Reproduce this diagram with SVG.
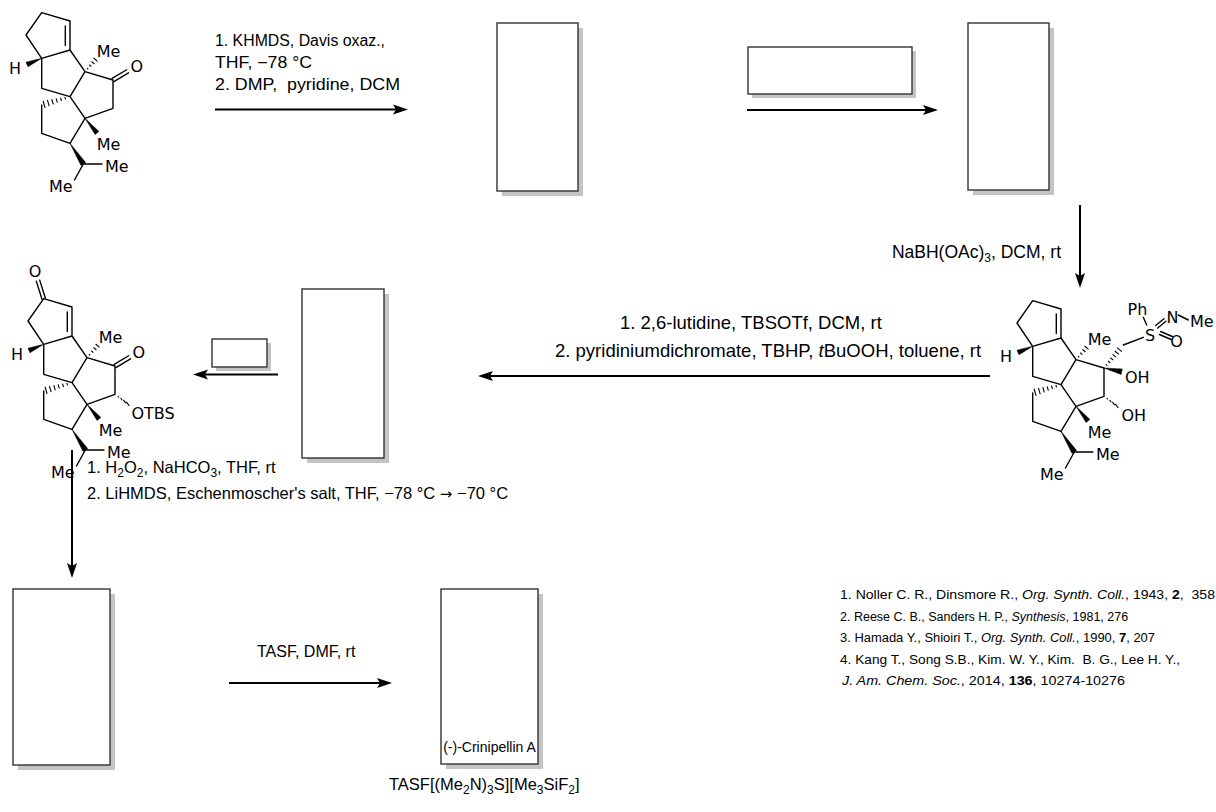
<svg xmlns="http://www.w3.org/2000/svg" xmlns:xlink="http://www.w3.org/1999/xlink" width="1216" height="812" viewBox="0 0 1216 812">
<style>
.bd{fill:none;stroke:#000;stroke-width:1.4;stroke-linecap:round;stroke-linejoin:round}
.hs{fill:none;stroke:#000;stroke-width:1.1}
.wg{fill:#000;stroke:#000;stroke-width:0.5;stroke-linejoin:round}
.lb{font-family:"DejaVu Sans","Liberation Sans",sans-serif;font-size:16px;fill:#000}
.lc{text-anchor:middle}
.rg{font-family:"Liberation Sans",Arial,sans-serif;font-size:16px;fill:#000;white-space:pre}
.r2{font-size:18.5px}
.r3{font-size:16.5px}
.rf{font-family:"Liberation Sans",Arial,sans-serif;font-size:13px;fill:#000;white-space:pre}
.box{fill:#fff;stroke:#333;stroke-width:1.4}
.sh{fill:#c4c4c4}
.ar{fill:none;stroke:#000;stroke-width:2}
</style>
<defs>
<marker id="ah" markerUnits="userSpaceOnUse" markerWidth="20" markerHeight="12" refX="4" refY="5" orient="auto" overflow="visible">
<path d="M0,0 L15,5 L0,10 L3,5 Z" fill="#000"/>
</marker>
<g id="skel">
<path class="bd" d="M41.7,12.7 L70,21 L70,50 L41.7,58.3 L26,35 Z M65.3,26 L65.3,45.5 M70,50 L85,71.7 L70,96.7 L41.7,88.3 L41.7,58.3 M85,71.7 L113,80 L113,108.3 L85,118.3 L70,96.7 M85,118.3 L70,143.3 L41.7,133.3 L41.7,105 M83.3,164 L102,164 M83.3,164 L74.5,180"/>
<path class="wg" d="M41.7,58.3 L26,62.2 L28,66.8 Z M85,118.3 L98.9,131.4 L95.1,134.6 Z M70,143.3 L85.6,162.5 L81,165.5 Z"/>
<path class="hs" d="M87.04,68.17 L88.24,69.23 M89.23,64.78 L91.33,66.62 M91.42,61.38 L94.42,64.02 M93.61,57.98 L97.51,61.42 M64.85,96.9 L65.55,99.3 M60.5,97.67 L61.46,100.99 M56.13,98.45 L57.37,102.67 M51.77,99.21 L53.29,104.39 M47.4,99.96 L49.2,106.1 M43.05,100.74 L45.11,107.78"/>
<text class="lb" x="9" y="74">H</text>
<text class="lb" x="96.7" y="56.7">Me</text>
<text class="lb" x="96.7" y="150">Me</text>
<text class="lb" x="105" y="172">Me</text>
<text class="lb" x="49" y="192">Me</text>
</g>
</defs>

<g id="node-start">
<use xlink:href="#skel"/>
<path class="bd" d="M113.9,81.55 L128.5,72.85 M112.1,78.45 L126.7,69.75"/>
<text class="lb lc" x="136.7" y="71.5">O</text>
</g>

<g id="node-enone" transform="translate(2,286)">
<use xlink:href="#skel"/>
<path class="bd" d="M113.9,81.55 L128.5,72.85 M112.1,78.45 L126.7,69.75 M43.4,12.2 L37.7,-5.9 M40,13.2 L34.3,-4.9"/>
<path class="hs" d="M115.72,110.06 L116.68,111.34 M118.56,111.98 L120.24,114.22 M121.4,113.9 L123.8,117.1 M124.24,115.82 L127.36,119.98"/>
<text class="lb lc" x="136.7" y="71.5">O</text>
<text class="lb lc" x="33" y="-9.3">O</text>
<text class="lb" x="129.5" y="132.5">OTBS</text>
</g>

<g id="node-diol" transform="translate(991,288)">
<use xlink:href="#skel"/>
<path class="wg" d="M113,80 L130.14,86.44 L131.26,80.96 Z"/>
<path class="hs" d="M114.8,76.3 L116.34,77.58 M117.07,72.97 L119.21,74.77 M119.34,69.65 L122.1,71.97 M121.6,66.33 L124.98,69.15 M123.87,63.01 L127.85,66.35 M126.13,59.69 L130.73,63.55 M115.72,110.06 L116.68,111.34 M118.56,111.98 L120.24,114.22 M121.4,113.9 L123.8,117.1 M124.24,115.82 L127.36,119.98"/>
<path class="bd" d="M132.3,57 L152.3,49.3 M155.7,37 L152.3,29.3 M166.7,39.95 L175,33.25 M164.7,37.45 L173,30.75 M168.4,46.5 L180.1,51.5 M169.6,43.5 L181.3,48.5 M187.3,27 L197.3,32"/>
<text class="lb" x="134" y="95.3">OH</text>
<text class="lb" x="130.5" y="132.5">OH</text>
<text class="lb lc" x="159" y="52.7">S</text>
<text class="lb lc" x="146.5" y="27">Ph</text>
<text class="lb lc" x="181.5" y="35.3">N</text>
<text class="lb" x="199" y="39">Me</text>
<text class="lb lc" x="185.5" y="58.7">O</text>
</g>

<g id="node-boxA"><rect class="sh" x="502" y="28" width="81" height="168"/><rect class="box" x="497" y="23" width="81" height="168"/></g>
<g id="node-reagent-box1"><rect class="sh" x="752" y="51" width="164" height="47"/><rect class="box" x="748" y="47" width="164" height="47"/></g>
<g id="node-boxB"><rect class="sh" x="973" y="28" width="81" height="167"/><rect class="box" x="968" y="23" width="81" height="167"/></g>
<g id="node-boxC"><rect class="sh" x="307" y="294" width="82" height="169"/><rect class="box" x="302" y="289" width="82" height="169"/></g>
<g id="node-reagent-box2"><rect class="sh" x="216" y="343" width="55" height="28"/><rect class="box" x="212" y="339" width="55" height="28"/></g>
<g id="node-boxD"><rect class="sh" x="18" y="594" width="97" height="176"/><rect class="box" x="13" y="589" width="97" height="176"/></g>
<g id="node-product"><rect class="sh" x="446" y="594" width="97" height="175"/><rect class="box" x="441" y="589" width="97" height="175"/>
<text class="rg" x="489.5" y="752" text-anchor="middle" style="font-size:14px">(-)-Crinipellin A</text></g>

<g id="connectors">
<line class="ar" x1="215" y1="109.5" x2="397" y2="109.5" marker-end="url(#ah)"/>
<line class="ar" x1="747" y1="110" x2="927" y2="110" marker-end="url(#ah)"/>
<line class="ar" x1="1080" y1="205" x2="1080" y2="277" marker-end="url(#ah)"/>
<line class="ar" x1="990" y1="376" x2="489" y2="376" marker-end="url(#ah)"/>
<line class="ar" x1="278" y1="374.5" x2="204" y2="374.5" marker-end="url(#ah)"/>
<line class="ar" x1="72" y1="450" x2="72" y2="567" marker-end="url(#ah)"/>
<line class="ar" x1="229" y1="683" x2="381" y2="683" marker-end="url(#ah)"/>
</g>

<g id="labels">
<text class="rg" x="215" y="46" textLength="170" lengthAdjust="spacingAndGlyphs">1. KHMDS, Davis oxaz.,</text>
<text class="rg" x="215" y="68" textLength="97" lengthAdjust="spacingAndGlyphs">THF, −78 °C</text>
<text class="rg" x="215" y="90" textLength="185" lengthAdjust="spacingAndGlyphs">2. DMP,  pyridine, DCM</text>
<text class="rg r3" x="1061" y="258" text-anchor="end" style="font-size:17.5px">NaBH(OAc)<tspan dy="4" font-size="12">3</tspan><tspan dy="-4">, DCM, rt</tspan></text>
<text class="rg r2" x="620" y="329">1. 2,6-lutidine, TBSOTf, DCM, rt</text>
<text class="rg r2" x="555" y="357">2. pyridiniumdichromate, TBHP, <tspan font-style="italic">t</tspan>BuOOH, toluene, rt</text>
<text class="rg r3" x="87" y="473">1. H<tspan dy="4" font-size="12">2</tspan><tspan dy="-4">O</tspan><tspan dy="4" font-size="12">2</tspan><tspan dy="-4">, NaHCO</tspan><tspan dy="4" font-size="12">3</tspan><tspan dy="-4">, THF, rt</tspan></text>
<text class="rg r3" x="87" y="499">2. LiHMDS, Eschenmoscher's salt, THF, −78 °C <tspan font-family="DejaVu Sans" font-size="15">→</tspan> −70 °C</text>
<text class="rg" x="257" y="657">TASF, DMF, rt</text>
<text class="rg" x="389" y="790" style="font-size:16.5px">TASF[(Me<tspan dy="4" font-size="12">2</tspan><tspan dy="-4">N)</tspan><tspan dy="4" font-size="12">3</tspan><tspan dy="-4">S][Me</tspan><tspan dy="4" font-size="12">3</tspan><tspan dy="-4">SiF</tspan><tspan dy="4" font-size="12">2</tspan><tspan dy="-4">]</tspan></text>
<text class="rf" x="840" y="599" textLength="375" lengthAdjust="spacingAndGlyphs">1. Noller C. R., Dinsmore R., <tspan font-style="italic">Org. Synth. Coll.</tspan>, 1943, <tspan font-weight="bold">2</tspan>,  358</text>
<text class="rf" x="840" y="620.5" style="font-size:12.5px">2. Reese C. B., Sanders H. P., <tspan font-style="italic">Synthesis</tspan>, 1981, 276</text>
<text class="rf" x="840" y="642" textLength="315" lengthAdjust="spacingAndGlyphs">3. Hamada Y., Shioiri T., <tspan font-style="italic">Org. Synth. Coll.</tspan>, 1990, <tspan font-weight="bold">7</tspan>, 207</text>
<text class="rf" x="840" y="663.5" textLength="340" lengthAdjust="spacingAndGlyphs">4. Kang T., Song S.B., Kim. W. Y., Kim.  B. G., Lee H. Y.,</text>
<text class="rf" x="842" y="685" textLength="283" lengthAdjust="spacingAndGlyphs"><tspan font-style="italic">J. Am. Chem. Soc.</tspan>, 2014, <tspan font-weight="bold">136</tspan>, 10274-10276</text>
</g>
</svg>
